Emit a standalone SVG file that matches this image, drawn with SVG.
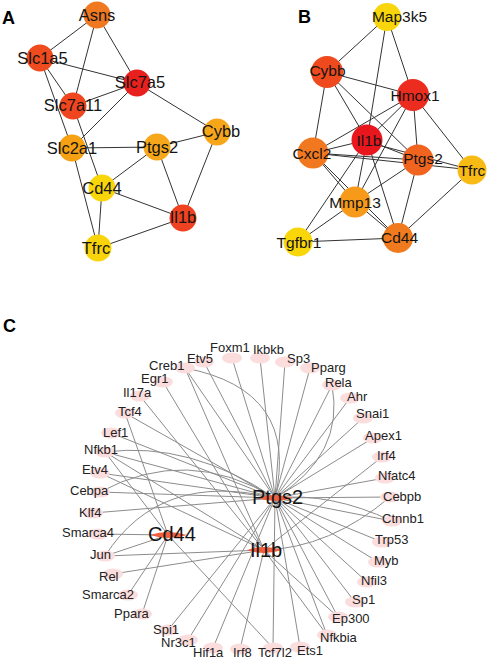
<svg xmlns="http://www.w3.org/2000/svg" width="491" height="661" viewBox="0 0 491 661">
<style>
text{font-family:"Liberation Sans",Arial,sans-serif;fill:#141414}
.pl{font-weight:bold;font-size:18px;fill:#000}
.la{font-size:16.5px;text-anchor:middle}
.lb{font-size:15.5px;text-anchor:middle}
.lc{font-size:13px;fill:#222}
.lh{font-size:20px}
.ea line{stroke:#333;stroke-width:1}
.ec line,.ec path{stroke:#8c8c8c;stroke-width:1;fill:none}
.tf{fill:#FCDDDD}
.hub{fill:#F0603E}
</style>
<rect width="491" height="661" fill="#fff"/>

<!-- Panel letters -->
<text class="pl" x="2" y="23.5">A</text>
<text class="pl" x="298" y="23">B</text>
<text class="pl" x="3" y="332">C</text>

<!-- ===== Panel A ===== -->
<g id="A-edges" class="ea">
<line x1="97" y1="15" x2="40" y2="58"/>
<line x1="97" y1="15" x2="73" y2="106"/>
<line x1="97" y1="15" x2="137" y2="83"/>
<line x1="40" y1="58" x2="137" y2="83"/>
<line x1="40" y1="58" x2="73" y2="106"/>
<line x1="40" y1="58" x2="72" y2="148"/>
<line x1="72" y1="148" x2="98" y2="248"/>
<line x1="137" y1="83" x2="73" y2="106"/>
<line x1="137" y1="83" x2="72" y2="148"/>
<line x1="137" y1="83" x2="217" y2="132"/>
<line x1="73" y1="106" x2="102" y2="188"/>
<line x1="72" y1="148" x2="157" y2="147"/>
<line x1="157" y1="147" x2="217" y2="132"/>
<line x1="157" y1="147" x2="102" y2="188"/>
<line x1="157" y1="147" x2="183" y2="218"/>
<line x1="217" y1="132" x2="183" y2="218"/>
<line x1="102" y1="188" x2="183" y2="218"/>
<line x1="102" y1="188" x2="98" y2="248"/>
<line x1="183" y1="218" x2="98" y2="248"/>
</g>
<g id="A-Asns"><circle cx="97" cy="15" r="13.5" fill="#F07820"/><text class="la" x="97" y="20.5">Asns</text></g>
<g id="A-Slc1a5"><circle cx="40" cy="58" r="13.5" fill="#EE4B1E"/><text class="la" x="42.5" y="63.5">Slc1a5</text></g>
<g id="A-Slc7a5"><circle cx="137" cy="83" r="13.5" fill="#E8201E"/><text class="la" x="140" y="88">Slc7a5</text></g>
<g id="A-Slc7a11"><circle cx="73" cy="106" r="13.5" fill="#EF4620"/><text class="la" x="73" y="111">Slc7a11</text></g>
<g id="A-Slc2a1"><circle cx="72" cy="148" r="13.5" fill="#F6A014"/><text class="la" x="72" y="153.5">Slc2a1</text></g>
<g id="A-Ptgs2"><circle cx="157" cy="147" r="13.5" fill="#F7A81A"/><text class="la" x="157" y="152.5">Ptgs2</text></g>
<g id="A-Cybb"><circle cx="217" cy="132" r="13.5" fill="#F7A61A"/><text class="la" x="221" y="137">Cybb</text></g>
<g id="A-Cd44"><circle cx="102" cy="188" r="13.5" fill="#F9D60A"/><text class="la" x="102" y="193.5">Cd44</text></g>
<g id="A-Il1b"><circle cx="183" cy="218" r="13.5" fill="#EE4220"/><text class="la" x="183" y="223">Il1b</text></g>
<g id="A-Tfrc"><circle cx="98" cy="248" r="13.5" fill="#F9D40A"/><text class="la" x="96" y="253.5">Tfrc</text></g>

<!-- ===== Panel B ===== -->
<g id="B-edges" class="ea">
<line x1="387" y1="17" x2="327" y2="72"/>
<line x1="387" y1="17" x2="413" y2="95"/>
<line x1="387" y1="17" x2="367" y2="140"/>
<line x1="327" y1="72" x2="413" y2="95"/>
<line x1="327" y1="72" x2="313" y2="153"/>
<line x1="327" y1="72" x2="367" y2="140"/>
<line x1="327" y1="72" x2="418" y2="160"/>
<line x1="413" y1="95" x2="313" y2="153"/>
<line x1="413" y1="95" x2="367" y2="140"/>
<line x1="413" y1="95" x2="418" y2="160"/>
<line x1="413" y1="95" x2="472" y2="170"/>
<line x1="413" y1="95" x2="355" y2="202"/>
<line x1="367" y1="140" x2="313" y2="153"/>
<line x1="367" y1="140" x2="418" y2="160"/>
<line x1="367" y1="142" x2="472" y2="170"/>
<line x1="367" y1="140" x2="355" y2="202"/>
<line x1="367" y1="140" x2="298" y2="242"/>
<line x1="367" y1="140" x2="398" y2="238"/>
<line x1="313" y1="153" x2="418" y2="160"/>
<line x1="313" y1="153" x2="472" y2="170"/>
<line x1="313" y1="153" x2="355" y2="202"/>
<line x1="313" y1="153" x2="398" y2="238"/>
<line x1="418" y1="160" x2="355" y2="202"/>
<line x1="418" y1="160" x2="398" y2="238"/>
<line x1="472" y1="170" x2="398" y2="238"/>
<line x1="355" y1="202" x2="298" y2="242"/>
<line x1="355" y1="202" x2="398" y2="238"/>
<line x1="298" y1="242" x2="398" y2="238"/>
</g>
<g id="B-Map3k5"><circle cx="387" cy="17" r="14" fill="#F9D50C"/><text class="lb" x="399.5" y="21.5">Map3k5</text></g>
<g id="B-Cybb"><circle cx="327" cy="72" r="16" fill="#EE4A1E"/><text class="lb" x="327.5" y="75.5">Cybb</text></g>
<g id="B-Hmox1"><circle cx="413" cy="95" r="16" fill="#EC2C1E"/><text class="lb" x="415" y="100.5">Hmox1</text></g>
<g id="B-Il1b"><circle cx="367" cy="140" r="15.5" fill="#E8171E"/><text class="lb" x="369" y="145.5">Il1b</text></g>
<g id="B-Cxcl2"><circle cx="313" cy="153" r="15.5" fill="#F27820"/><text class="lb" x="312" y="158.5">Cxcl2</text></g>
<g id="B-Ptgs2"><circle cx="418" cy="160" r="15.5" fill="#F06420"/><text class="lb" x="423" y="163.5">Ptgs2</text></g>
<g id="B-Tfrc"><circle cx="472" cy="170" r="14.5" fill="#F8BA14"/><text class="lb" x="472" y="175.5">Tfrc</text></g>
<g id="B-Mmp13"><circle cx="355" cy="202" r="15.5" fill="#F79A1A"/><text class="lb" x="355" y="208">Mmp13</text></g>
<g id="B-Tgfbr1"><circle cx="298" cy="242" r="14.5" fill="#F9D60A"/><text class="lb" x="299" y="247.5">Tgfbr1</text></g>
<g id="B-Cd44"><circle cx="398" cy="238" r="15" fill="#F07A1E"/><text class="lb" x="399.5" y="242.5">Cd44</text></g>

<!-- ===== Panel C ===== -->
<g id="C-edges" class="ec">
<!-- Ptgs2 (275,498) -->
<line x1="232" y1="358" x2="275" y2="498"/>
<line x1="260" y1="358" x2="275" y2="498"/>
<line x1="285" y1="362" x2="275" y2="498"/>
<line x1="310" y1="368" x2="275" y2="498"/>
<line x1="332" y1="385" x2="275" y2="498"/>
<line x1="350" y1="398" x2="275" y2="498"/>
<line x1="363" y1="418" x2="275" y2="498"/>
<line x1="373" y1="438" x2="275" y2="498"/>
<line x1="385" y1="478" x2="275" y2="498"/>
<line x1="390" y1="497" x2="275" y2="498"/>
<line x1="392" y1="521" x2="275" y2="498"/>
<line x1="382" y1="542" x2="275" y2="498"/>
<line x1="378" y1="562" x2="275" y2="498"/>
<line x1="367" y1="582" x2="275" y2="498"/>
<line x1="355" y1="602" x2="275" y2="498"/>
<line x1="338" y1="617" x2="275" y2="498"/>
<line x1="327" y1="635" x2="275" y2="498"/>
<line x1="300" y1="647" x2="275" y2="498"/>
<line x1="273" y1="648" x2="275" y2="498"/>
<line x1="213" y1="648" x2="275" y2="498"/>
<line x1="188" y1="640" x2="275" y2="498"/>
<line x1="168" y1="630" x2="275" y2="498"/>
<line x1="204" y1="362" x2="275" y2="498"/>
<line x1="185" y1="368" x2="275" y2="498"/>
<line x1="125" y1="413" x2="275" y2="498"/>
<line x1="111" y1="433" x2="275" y2="498"/>
<line x1="105" y1="452" x2="275" y2="498"/>
<line x1="100" y1="473" x2="275" y2="498"/>
<line x1="100" y1="492" x2="275" y2="498"/>
<line x1="93" y1="513" x2="275" y2="498"/>
<!-- Il1b (264,550) -->
<line x1="382" y1="457" x2="264" y2="550"/>
<line x1="163" y1="382" x2="264" y2="550"/>
<line x1="140" y1="396" x2="264" y2="550"/>
<line x1="185" y1="368" x2="264" y2="550"/>
<line x1="105" y1="452" x2="264" y2="550"/>
<line x1="100" y1="473" x2="264" y2="550"/>
<line x1="105" y1="556" x2="264" y2="550"/>
<line x1="113" y1="574" x2="264" y2="550"/>
<line x1="240" y1="649" x2="264" y2="550"/>
<line x1="327" y1="635" x2="264" y2="550"/>
<line x1="338" y1="617" x2="264" y2="550"/>
<!-- Cd44 (168,535) -->
<line x1="142" y1="614" x2="168" y2="535"/>
<line x1="105" y1="556" x2="168" y2="535"/>
<line x1="98" y1="534" x2="168" y2="535"/>
<line x1="125" y1="413" x2="168" y2="535"/>
<line x1="105" y1="452" x2="168" y2="535"/>
<line x1="273" y1="648" x2="168" y2="535"/>
<line x1="128" y1="595" x2="168" y2="535"/>
<!-- curved duplicates -->
<path d="M185,368 Q300,390 275,498"/>
<path d="M332,385 Q345,455 275,498"/>
<path d="M100,492 Q187,445 275,498"/>
<path d="M105,452 Q190,441 275,498"/>
<path d="M105,556 Q160,470 275,498"/>
<path d="M390,497 Q330,548 264,550"/>
<path d="M392,521 Q330,492 275,498"/>
</g>

<g id="C-tfs">
<g id="C-Foxm1"><ellipse class="tf" cx="232" cy="358" rx="10" ry="5.5"/><text class="lc" x="210" y="352">Foxm1</text></g>
<g id="C-Ikbkb"><ellipse class="tf" cx="260" cy="358" rx="10" ry="5.5"/><text class="lc" x="253" y="353.5">Ikbkb</text></g>
<g id="C-Sp3"><ellipse class="tf" cx="285" cy="362" rx="10" ry="5.5"/><text class="lc" x="287" y="363">Sp3</text></g>
<g id="C-Pparg"><ellipse class="tf" cx="310" cy="368" rx="10" ry="5.5"/><text class="lc" x="311" y="372">Pparg</text></g>
<g id="C-Rela"><ellipse class="tf" cx="332" cy="385" rx="10" ry="5.5"/><text class="lc" x="325" y="386.5">Rela</text></g>
<g id="C-Ahr"><ellipse class="tf" cx="350" cy="398" rx="10" ry="5.5"/><text class="lc" x="347" y="401">Ahr</text></g>
<g id="C-Snai1"><ellipse class="tf" cx="363" cy="418" rx="10" ry="5.5"/><text class="lc" x="356" y="418">Snai1</text></g>
<g id="C-Apex1"><ellipse class="tf" cx="373" cy="438" rx="10" ry="5.5"/><text class="lc" x="365" y="439.5">Apex1</text></g>
<g id="C-Irf4"><ellipse class="tf" cx="382" cy="457" rx="10" ry="5.5"/><text class="lc" x="377" y="459.5">Irf4</text></g>
<g id="C-Nfatc4"><ellipse class="tf" cx="385" cy="478" rx="10" ry="5.5"/><text class="lc" x="378" y="480">Nfatc4</text></g>
<g id="C-Cebpb"><ellipse class="tf" cx="390" cy="497" rx="10" ry="5.5"/><text class="lc" x="383" y="501">Cebpb</text></g>
<g id="C-Ctnnb1"><ellipse class="tf" cx="392" cy="521" rx="10" ry="5.5"/><text class="lc" x="382" y="523">Ctnnb1</text></g>
<g id="C-Trp53"><ellipse class="tf" cx="382" cy="542" rx="10" ry="5.5"/><text class="lc" x="375" y="544">Trp53</text></g>
<g id="C-Myb"><ellipse class="tf" cx="378" cy="562" rx="10" ry="5.5"/><text class="lc" x="374" y="565">Myb</text></g>
<g id="C-Nfil3"><ellipse class="tf" cx="367" cy="582" rx="10" ry="5.5"/><text class="lc" x="361" y="585">Nfil3</text></g>
<g id="C-Sp1"><ellipse class="tf" cx="355" cy="602" rx="10" ry="5.5"/><text class="lc" x="352" y="604">Sp1</text></g>
<g id="C-Ep300"><ellipse class="tf" cx="338" cy="617" rx="10" ry="5.5"/><text class="lc" x="332" y="623">Ep300</text></g>
<g id="C-Nfkbia"><ellipse class="tf" cx="327" cy="635" rx="10" ry="5.5"/><text class="lc" x="320" y="642">Nfkbia</text></g>
<g id="C-Ets1"><ellipse class="tf" cx="300" cy="647" rx="10" ry="5.5"/><text class="lc" x="297" y="655">Ets1</text></g>
<g id="C-Tcf7l2"><ellipse class="tf" cx="273" cy="648" rx="10" ry="5.5"/><text class="lc" x="258" y="657">Tcf7l2</text></g>
<g id="C-Irf8"><ellipse class="tf" cx="240" cy="649" rx="10" ry="5.5"/><text class="lc" x="233" y="657">Irf8</text></g>
<g id="C-Hif1a"><ellipse class="tf" cx="213" cy="648" rx="10" ry="5.5"/><text class="lc" x="193" y="657">Hif1a</text></g>
<g id="C-Nr3c1"><ellipse class="tf" cx="188" cy="640" rx="10" ry="5.5"/><text class="lc" x="161" y="647">Nr3c1</text></g>
<g id="C-Spi1"><ellipse class="tf" cx="168" cy="630" rx="10" ry="5.5"/><text class="lc" x="153" y="634">Spi1</text></g>
<g id="C-Ppara"><ellipse class="tf" cx="142" cy="614" rx="10" ry="5.5"/><text class="lc" x="114" y="618">Ppara</text></g>
<g id="C-Smarca2"><ellipse class="tf" cx="128" cy="595" rx="10" ry="5.5"/><text class="lc" x="82" y="599">Smarca2</text></g>
<g id="C-Rel"><ellipse class="tf" cx="113" cy="574" rx="10" ry="5.5"/><text class="lc" x="99" y="581">Rel</text></g>
<g id="C-Jun"><ellipse class="tf" cx="105" cy="556" rx="10" ry="5.5"/><text class="lc" x="90" y="559">Jun</text></g>
<g id="C-Smarca4"><ellipse class="tf" cx="98" cy="534" rx="10" ry="5.5"/><text class="lc" x="62" y="537">Smarca4</text></g>
<g id="C-Klf4"><ellipse class="tf" cx="93" cy="513" rx="10" ry="5.5"/><text class="lc" x="79" y="517">Klf4</text></g>
<g id="C-Cebpa"><ellipse class="tf" cx="100" cy="492" rx="10" ry="5.5"/><text class="lc" x="70" y="495">Cebpa</text></g>
<g id="C-Etv4"><ellipse class="tf" cx="100" cy="473" rx="10" ry="5.5"/><text class="lc" x="82" y="474">Etv4</text></g>
<g id="C-Nfkb1"><ellipse class="tf" cx="105" cy="452" rx="10" ry="5.5"/><text class="lc" x="84" y="454">Nfkb1</text></g>
<g id="C-Lef1"><ellipse class="tf" cx="111" cy="433" rx="10" ry="5.5"/><text class="lc" x="103" y="437">Lef1</text></g>
<g id="C-Tcf4"><ellipse class="tf" cx="125" cy="413" rx="10" ry="5.5"/><text class="lc" x="118" y="416">Tcf4</text></g>
<g id="C-Il17a"><ellipse class="tf" cx="140" cy="396" rx="10" ry="5.5"/><text class="lc" x="123" y="397">Il17a</text></g>
<g id="C-Egr1"><ellipse class="tf" cx="163" cy="382" rx="10" ry="5.5"/><text class="lc" x="141" y="383">Egr1</text></g>
<g id="C-Creb1"><ellipse class="tf" cx="185" cy="368" rx="10" ry="5.5"/><text class="lc" x="149" y="370">Creb1</text></g>
<g id="C-Etv5"><ellipse class="tf" cx="204" cy="362" rx="10" ry="5.5"/><text class="lc" x="187" y="363">Etv5</text></g>
</g>

<g id="C-Ptgs2"><path class="hub" d="M257,498 Q275,492 293,498 Q275,504 257,498 Z"/><text class="lh" x="252" y="504">Ptgs2</text></g>
<g id="C-Cd44"><path class="hub" d="M150,535 Q168,529 187,535 Q168,541 150,535 Z"/><text class="lh" x="148" y="541">Cd44</text></g>
<g id="C-Il1b"><path class="hub" d="M247,550 Q264,544 282,550 Q264,556 247,550 Z"/><text class="lh" x="250" y="557">Il1b</text></g>
</svg>
